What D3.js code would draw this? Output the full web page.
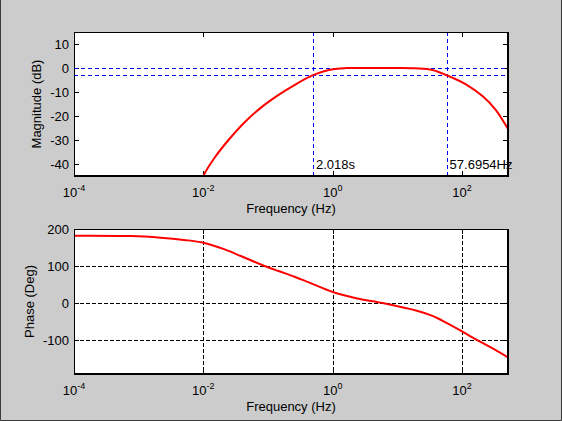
<!DOCTYPE html>
<html><head><meta charset="utf-8">
<script src="https://cdn.jsdelivr.net/npm/d3@7"></script>
<style>
html,body{margin:0;padding:0;background:#cccccc;}
svg{display:block;font-family:"Liberation Sans",Arial,sans-serif;}
</style></head>
<body><svg id="c" width="562" height="421"></svg>
<script>
// ---- data ----
const xTickExps = [-4, -2, 0, 2];
const magTicks = [10, 0, -10, -20, -30, -40];
const phaseTicks = [200, 100, 0, -100];
const magFreq = [0.0088, 0.01, 0.0151, 0.0245, 0.0447, 0.0804, 0.1456, 0.264, 0.4955, 0.867, 1.574, 3.98, 10, 19.05, 34.7, 57.6954, 114.8, 208.9, 331, 513];
const magDb   = [-49.5, -45.0, -37.2, -30.0, -22.3, -16.2, -11.2, -6.9, -3.0, -0.8, -0.05, 0, 0, -0.15, -0.8, -3.0, -6.8, -11.8, -17.4, -25.4];
const phaseFreq = [0.0001, 0.000759, 0.00219, 0.00501, 0.01, 0.0209, 0.038, 0.0776, 0.1413, 0.257, 0.4365, 1, 2.29, 5.89, 13.8, 20, 31.6, 42.7, 57.5, 100, 166, 269, 513];
const phaseDeg  = [182, 181, 176.5, 170.5, 163, 145.5, 127, 104, 87, 71, 55, 29.7, 13, 0, -14, -21, -32, -42, -54, -77, -99, -119, -147];
const refDb = [0, -3];
const cutoffs = [0.4955, 57.6954];
const cutoffLabels = ["2.018s", "57.6954Hz"];
const xLabel = "Frequency (Hz)";
const magLabel = "Magnitude (dB)";
const phaseLabel = "Phase (Deg)";

const svg = d3.select("#c");
const W = 562, H = 421;
const FONT = 13;

// figure border
svg.append("rect").attr("x",0).attr("y",0).attr("width",W).attr("height",H).attr("fill","#cccccc");
svg.append("path").attr("d",`M0.5,${0} V${H-0.5} H${W-0.5} V0`).attr("fill","none").attr("stroke","#3a3a3a").attr("stroke-width",1);

function panel(box, yDomain, yTicks, ylab, ylabX, grid) {
  const x = d3.scaleLog().domain([1e-4, 513]).range([box.l, box.r]);
  const y = d3.scaleLinear().domain(yDomain).range([box.b, box.t]);
  const g = svg.append("g");
  const clipId = "clip" + box.t;
  svg.append("clipPath").attr("id", clipId).append("rect")
    .attr("x", box.l).attr("y", box.t).attr("width", box.r-box.l).attr("height", box.b-box.t);
  g.append("rect").attr("x",box.l).attr("y",box.t).attr("width",box.r-box.l).attr("height",box.b-box.t).attr("fill","#fff");
  const xt = xTickExps.map(e => Math.pow(10, e));
  if (grid) {
    const gg = g.append("g").attr("stroke","#000").attr("stroke-width",1).attr("stroke-dasharray","4,2").attr("shape-rendering","crispEdges");
    xt.filter(v => v > 1e-4).forEach(v => gg.append("line").attr("x1",Math.round(x(v))+0.5).attr("x2",Math.round(x(v))+0.5).attr("y1",box.t).attr("y2",box.b));
    yTicks.filter(v => v > yDomain[0] && v < yDomain[1]).forEach(v => gg.append("line").attr("x1",box.l).attr("x2",box.r).attr("y1",Math.round(y(v))+0.5).attr("y2",Math.round(y(v))+0.5));
  }
  // axes with inside ticks
  const ax = (a, tr) => g.append("g").attr("transform", tr).call(a)
      .call(s => { s.selectAll("line,path").attr("stroke","#000").attr("shape-rendering","crispEdges"); s.selectAll("text").remove(); });
  ax(d3.axisBottom(x).tickValues(xt).tickSizeInner(-5).tickSizeOuter(0).tickFormat(""), `translate(0,${box.b})`);
  ax(d3.axisTop(x).tickValues(xt).tickSizeInner(-5).tickSizeOuter(0).tickFormat(""), `translate(0,${box.t})`);
  ax(d3.axisLeft(y).tickValues(yTicks).tickSizeInner(-5).tickSizeOuter(0).tickFormat(""), `translate(${box.l},0)`);
  ax(d3.axisRight(y).tickValues(yTicks).tickSizeInner(-5).tickSizeOuter(0).tickFormat(""), `translate(${box.r},0)`);
  // y tick labels
  const yl = g.append("g").attr("font-size", FONT).attr("text-anchor","end").attr("fill","#000");
  yTicks.forEach(v => yl.append("text").attr("x", box.l-5).attr("y", y(v)).attr("dy","0.36em").text(v));
  // x tick labels 10^e
  xTickExps.forEach(e => {
    const t = g.append("text").attr("x", x(Math.pow(10,e))).attr("y", box.b+21).attr("text-anchor","middle").attr("font-size",FONT).attr("fill","#000");
    t.append("tspan").text("10");
    t.append("tspan").attr("dy",-6).attr("font-size",9).text(e);
  });
  g.append("text").attr("x",(box.l+box.r)/2).attr("y",box.b+37).attr("text-anchor","middle").attr("font-size",FONT).attr("fill","#000").text(xLabel);
  g.append("text").attr("transform",`translate(${ylabX},${(box.t+box.b)/2}) rotate(-90)`).attr("text-anchor","middle").attr("font-size",FONT).attr("fill","#000").text(ylab);
  return {x, y, g, clipId};
}

const curve = d3.curveCatmullRom.alpha(0.5);

// magnitude panel
const p1 = panel({l:74, r:508, t:32, b:176}, [-45, 15], magTicks, magLabel, 40.5, false);
const blue = p1.g.append("g").attr("stroke","#0000ff").attr("stroke-width",1).attr("stroke-dasharray","4,3").attr("shape-rendering","crispEdges");
refDb.forEach(v => blue.append("line").attr("x1",74).attr("x2",508).attr("y1",Math.round(p1.y(v))+0.5).attr("y2",Math.round(p1.y(v))+0.5));
cutoffs.forEach(f => blue.append("line").attr("x1",Math.round(p1.x(f))+0.5).attr("x2",Math.round(p1.x(f))+0.5).attr("y1",32).attr("y2",176));
cutoffs.forEach((f,i) => p1.g.append("text").attr("x", p1.x(f)+3).attr("y",169).attr("font-size",FONT).attr("fill","#000").text(cutoffLabels[i]));
const magLine = d3.line().x((d,i)=>p1.x(magFreq[i])).y(d=>p1.y(d)).curve(curve);
p1.g.append("path").attr("clip-path",`url(#${p1.clipId})`).attr("d", magLine(magDb)).attr("fill","none").attr("stroke","#ff0000").attr("stroke-width",2);
p1.g.append("rect").attr("x",74.5).attr("y",32.5).attr("width",433).attr("height",143).attr("fill","none").attr("stroke","#000");

// phase panel
const p2 = panel({l:74, r:508, t:229, b:374}, [-192, 200], phaseTicks, phaseLabel, 33.5, true);
const phLine = d3.line().x((d,i)=>p2.x(phaseFreq[i])).y(d=>p2.y(d)).curve(curve);
p2.g.append("path").attr("clip-path",`url(#${p2.clipId})`).attr("d", phLine(phaseDeg)).attr("fill","none").attr("stroke","#ff0000").attr("stroke-width",2);
p2.g.append("rect").attr("x",74.5).attr("y",229.5).attr("width",433).attr("height",144).attr("fill","none").attr("stroke","#000");
</script></body></html>
